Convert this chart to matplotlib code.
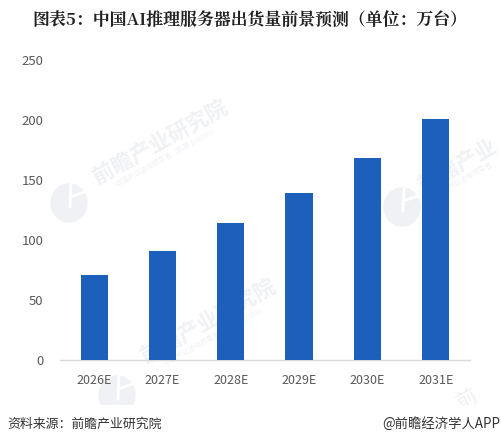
import matplotlib
matplotlib.use('Agg')
import matplotlib.pyplot as plt
from matplotlib.patches import Ellipse, Rectangle

plt.rcParams['font.family'] = ['Noto Sans CJK SC', 'DejaVu Sans']

years = ['2026E', '2027E', '2028E', '2029E', '2030E', '2031E']
shipments = [71, 91, 114, 139, 168, 201]
yticks = [0, 50, 100, 150, 200, 250]

title = '图表5：中国AI推理服务器出货量前景预测（单位：万台）'
source = '资料来源：前瞻产业研究院'
credit = '@前瞻经济学人APP'
wm_big = '前瞻产业研究院'
wm_short = '前瞻产业'
wm_small = '中国产业咨询领导者（股票 839399）'
wm_small_short = '中国产业咨询领导者'

W, H = 501, 445
WM_COLOR = '#eff1f5'


def px(x, y):
    # pixel position from top left -> figure fraction
    return x / W, 1 - y / H


fig = plt.figure(figsize=(W / 100, H / 100), dpi=100)
ax = fig.add_axes([60 / W, 1 - 360 / H, 410 / W, 300 / H])
ax.patch.set_alpha(0)

# bars, x scale leaves half a slot each side
ax.bar(range(len(years)), shipments, width=0.4, color='#1c60bb', zorder=3)
ax.set_xlim(-0.5, 5.5)
ax.set_ylim(0, 250)
ax.set_xticks(range(len(years)))
ax.set_xticklabels(years)
ax.set_yticks(yticks)
ax.tick_params(axis='both', length=0, labelcolor='#595959')
ax.tick_params(axis='x', pad=10, labelsize=9)
ax.tick_params(axis='y', pad=12, labelsize=9.5)
for s in ['top', 'right', 'left']:
    ax.spines[s].set_visible(False)
ax.spines['bottom'].set_color('#d9d9d9')
ax.spines['bottom'].set_linewidth(1)

# watermarks sit under the bars
marks = [(160, 143, wm_big, wm_small), (457, 165, wm_short, wm_small_short),
         (208, 322, wm_big, wm_small)]
for cx, cy, big, small in marks:
    ax.text(*px(cx, cy), big, transform=fig.transFigure, fontsize=15.5, fontweight='bold', color=WM_COLOR,
            rotation=29, ha='center', va='center', zorder=1, clip_on=False)
    ax.text(*px(cx + 7, cy + 14), small, transform=fig.transFigure, fontsize=5, color=WM_COLOR,
            rotation=29, ha='center', va='center', zorder=1, clip_on=False)
ax.text(*px(467, 399), '前', transform=fig.transFigure, fontsize=15, color=WM_COLOR,
        rotation=29, ha='center', va='center', zorder=1, clip_on=False)

for cx, cy in [(69, 203), (402, 207), (117, 395)]:
    ax.add_patch(Ellipse(px(cx, cy), 36 / W, 38 / H, color=WM_COLOR, transform=fig.transFigure,
                         zorder=1, clip_on=False))
    x0, y0 = px(cx + 2, cy - 19)
    x1, y1 = px(cx + 1, cy + 4)
    ax.plot([x0, x1], [y0, y1], color='white', lw=2, transform=fig.transFigure, zorder=1.5, clip_on=False)
    x0, y0 = px(cx + 1, cy - 6)
    x1, y1 = px(cx + 16, cy - 11)
    ax.plot([x0, x1], [y0, y1], color='white', lw=2, transform=fig.transFigure, zorder=1.5, clip_on=False)

# footer band hides the tile below y=405
ax.add_patch(Rectangle(px(0, 445), 1, 40 / H, color='white', transform=fig.transFigure,
                       zorder=2, clip_on=False))

fig.text(*px(250, 21), title, fontsize=12.2, fontweight='bold', color='#222222',
         ha='center', va='center', family=['Noto Serif CJK SC', 'Noto Sans CJK SC', 'DejaVu Sans'])
fig.text(*px(7, 424), source, fontsize=9.3, color='#333333', ha='left', va='center')
fig.text(*px(500, 424), credit, fontsize=9.6, color='#333333', ha='right', va='center')

fig.savefig('out.png', dpi=100, facecolor='white')
